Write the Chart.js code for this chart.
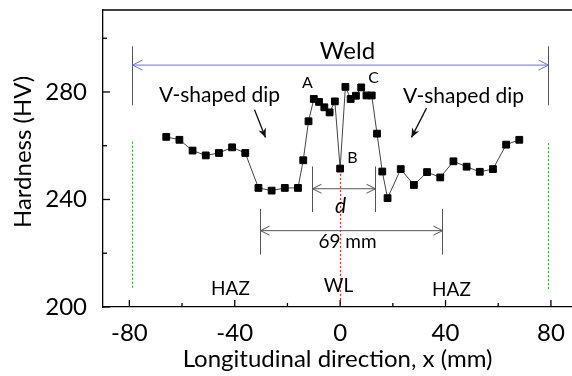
<!DOCTYPE html>
<html>
<head>
<meta charset="utf-8">
<script src="https://cdn.jsdelivr.net/npm/chart.js@4.4.1/dist/chart.umd.min.js"></script>
<style>
  html, body { margin: 0; padding: 0; background: #fff; overflow: hidden; }
  #box { width: 572px; height: 376px; }
</style>
</head>
<body>
<div id="box"><canvas id="graph-box"></canvas></div>
<script>
// hardness profile
const xPos = [-66, -61, -56, -51, -46, -41, -36, -31, -26, -21, -16,
              -14, -12, -10, -8, -6, -4, -2, 0, 2, 4, 6, 8, 10, 12, 14, 16, 18,
              23, 28, 33, 38, 43, 48, 53, 58, 63, 68];
const hv = [263.3, 262.2, 258.2, 256.4, 257.3, 259.4, 257.3, 244.3, 243.3, 244.3, 244.3,
            254.6, 269.1, 277.4, 276.3, 274.3, 272.4, 276.5, 251.5, 281.9, 277.4, 278.6, 281.7, 278.7, 278.7, 264.5, 250.4, 240.5,
            251.3, 245.4, 250.2, 248.2, 254.2, 252.2, 250.3, 251.3, 260.4, 262.2];

const xTicks = [-80, -40, 0, 40, 80];
const xMinor = [-60, -20, 20, 60];
const yTicks = [200, 240, 280];
const yMinor = [220, 260, 300];

const FONT = 'Lato, "Open Sans", sans-serif';

function arrowHead(c, x1, y1, x2, y2, len, half, filled) {
    // head at (x2, y2), pointing away from (x1, y1)
    const a = Math.atan2(y2 - y1, x2 - x1);
    const p1 = [x2 - len * Math.cos(a) + half * Math.sin(a), y2 - len * Math.sin(a) - half * Math.cos(a)];
    const p2 = [x2 - len * Math.cos(a) - half * Math.sin(a), y2 - len * Math.sin(a) + half * Math.cos(a)];
    c.beginPath();
    if (filled) {
        const m = [x2 - len * 0.7 * Math.cos(a), y2 - len * 0.7 * Math.sin(a)];
        c.moveTo(x2, y2); c.lineTo(p1[0], p1[1]); c.lineTo(m[0], m[1]); c.lineTo(p2[0], p2[1]);
        c.closePath(); c.fill();
    } else {
        c.moveTo(p1[0], p1[1]); c.lineTo(x2, y2); c.lineTo(p2[0], p2[1]);
        c.stroke();
    }
}

function line(c, x1, y1, x2, y2) {
    c.beginPath(); c.moveTo(x1, y1); c.lineTo(x2, y2); c.stroke();
}

const decor = {
    id: 'decor',
    beforeDatasetsDraw(chart) {
        const c = chart.ctx, xs = chart.scales.x, ys = chart.scales.y;
        const X = v => Math.round(xs.getPixelForValue(v)) + 0.5, Y = v => ys.getPixelForValue(v);
        c.save();

        // weld zone limits
        c.strokeStyle = '#555'; c.lineWidth = 1;
        line(c, X(-79), Y(297), X(-79), Y(275));
        line(c, X(79), Y(297), X(79), Y(275));
        c.strokeStyle = '#6b6bff';
        line(c, X(-79), Y(290), X(79), Y(290));
        arrowHead(c, X(0), Y(290), X(-79), Y(290), 10, 5, false);
        arrowHead(c, X(0), Y(290), X(79), Y(290), 10, 5, false);

        // dotted guide lines
        c.setLineDash([2, 2]);
        c.strokeStyle = '#2e9e2e';
        line(c, X(-79), Y(261.5), X(-79), Y(207));
        line(c, X(79), Y(261), X(79), Y(206));
        c.strokeStyle = '#ff2020';
        line(c, X(0), Y(251), X(0), Y(200));
        c.setLineDash([]);

        // d
        c.strokeStyle = '#555'; c.lineWidth = 1;
        line(c, X(-10.7), Y(252.3), X(-10.7), Y(235.3));
        line(c, X(13.4), Y(252.3), X(13.4), Y(235.3));
        line(c, X(-10.7), Y(244), X(13.4), Y(244));
        arrowHead(c, X(0), Y(244), X(-10.7), Y(244), 9, 4.5, false);
        arrowHead(c, X(0), Y(244), X(13.4), Y(244), 9, 4.5, false);

        // 69 mm
        line(c, X(-30.6), Y(236.5), X(-30.6), Y(219.5));
        line(c, X(38.7), Y(236.5), X(38.7), Y(219.5));
        line(c, X(-30.6), Y(228.4), X(38.7), Y(228.4));
        arrowHead(c, X(0), Y(228.4), X(-30.6), Y(228.4), 9, 4.5, false);
        arrowHead(c, X(0), Y(228.4), X(38.7), Y(228.4), 9, 4.5, false);

        // V-shaped dip arrows
        c.strokeStyle = '#111'; c.fillStyle = '#111'; c.lineWidth = 1.3;
        line(c, X(-32.6), Y(273.4), X(-28.4), Y(263.1));
        arrowHead(c, X(-32.6), Y(273.4), X(-28.4), Y(263.1), 9, 4, true);
        line(c, X(32.6), Y(274.0), X(26.8), Y(263.1));
        arrowHead(c, X(32.6), Y(274.0), X(26.8), Y(263.1), 9, 4, true);

        // texts
        c.fillStyle = '#000'; c.textAlign = 'center'; c.textBaseline = 'middle';
        c.font = '24px ' + FONT;
        c.fillText('Weld', X(2.5), Y(295.1));
        c.font = '21px ' + FONT;
        c.fillText('V-shaped dip', X(-46.1), Y(278.7));
        c.fillText('V-shaped dip', X(46.6), Y(278.6));
        c.font = '16px ' + FONT;
        c.fillText('A', X(-12.6), Y(283.4));
        c.fillText('B', X(4.4), Y(255.4));
        c.fillText('C', X(12.4), Y(285.2));
        c.font = 'italic 21px ' + FONT;
        c.fillText('d', X(0), Y(237.4));
        c.font = '19px ' + FONT;
        c.fillText('69 mm', X(2.5), Y(224.2));
        c.fillText('HAZ', X(-41.7), Y(206.8));
        c.fillText('WL', X(-1), Y(208));
        c.fillText('HAZ', X(42), Y(206.4));
        c.restore();
    },
    afterDraw(chart) {
        const c = chart.ctx, xs = chart.scales.x, ys = chart.scales.y, a = chart.chartArea;
        c.save();
        c.strokeStyle = '#000'; c.lineWidth = 1.3;
        // top frame line
        line(c, a.left, a.top, a.right, a.top);
        // inward ticks
        xTicks.forEach(v => line(c, xs.getPixelForValue(v), a.bottom, xs.getPixelForValue(v), a.bottom - 7));
        xMinor.forEach(v => line(c, xs.getPixelForValue(v), a.bottom, xs.getPixelForValue(v), a.bottom - 4));
        yTicks.forEach(v => line(c, a.left, ys.getPixelForValue(v), a.left + 7, ys.getPixelForValue(v)));
        yMinor.forEach(v => line(c, a.left, ys.getPixelForValue(v), a.left + 4, ys.getPixelForValue(v)));
        // y title
        c.fillStyle = '#000'; c.font = '24px ' + FONT;
        c.textAlign = 'center'; c.textBaseline = 'middle';
        c.translate(23, 152); c.rotate(-Math.PI / 2);
        c.fillText('Hardness (HV)', 0, 0);
        c.restore();
    }
};

const ctx = document.getElementById('graph-box');

const myChart = new Chart(ctx, {
    type: 'scatter',
    data: {
        datasets: [{
            data: xPos.map((x, i) => ({ x: x, y: hv[i] })),
            showLine: true,
            borderColor: '#444',
            borderWidth: 1,
            pointStyle: 'rect',
            pointRadius: 4.8,
            pointBackgroundColor: '#000',
            pointBorderColor: '#000',
            pointBorderWidth: 1
        }]
    },
    options: {
        responsive: true,
        maintainAspectRatio: false,
        animation: false,
        layout: { autoPadding: false, padding: { top: 10, right: 0, left: 0, bottom: 0 } },
        plugins: {
            legend: { display: false },
            tooltip: { enabled: false }
        },
        scales: {
            x: {
                type: 'linear',
                min: -90,
                max: 88,
                afterBuildTicks: s => { s.ticks = xTicks.map(v => ({ value: v })); },
                afterFit: s => { s.height = 69; s.paddingLeft = 0; s.paddingRight = 0; },
                grid: { display: false },
                border: { display: true, color: '#000', width: 1.3 },
                ticks: {
                    color: '#000',
                    font: { family: FONT, size: 24 },
                    padding: 4,
                    maxRotation: 0
                },
                title: {
                    display: true,
                    text: 'Longitudinal direction, x (mm)',
                    color: '#000',
                    font: { family: FONT, size: 24 },
                    padding: { top: 0, bottom: 2 }
                }
            },
            y: {
                min: 200,
                max: 310.5,
                afterBuildTicks: s => { s.ticks = yTicks.map(v => ({ value: v })); },
                afterFit: s => { s.width = 103; s.paddingTop = 0; s.paddingBottom = 0; },
                grid: { display: false },
                border: { display: true, color: '#000', width: 1.3 },
                ticks: {
                    color: '#000',
                    font: { family: FONT, size: 24 },
                    padding: 8
                }
            }
        }
    },
    plugins: [decor]
});
</script>
</body>
</html>
